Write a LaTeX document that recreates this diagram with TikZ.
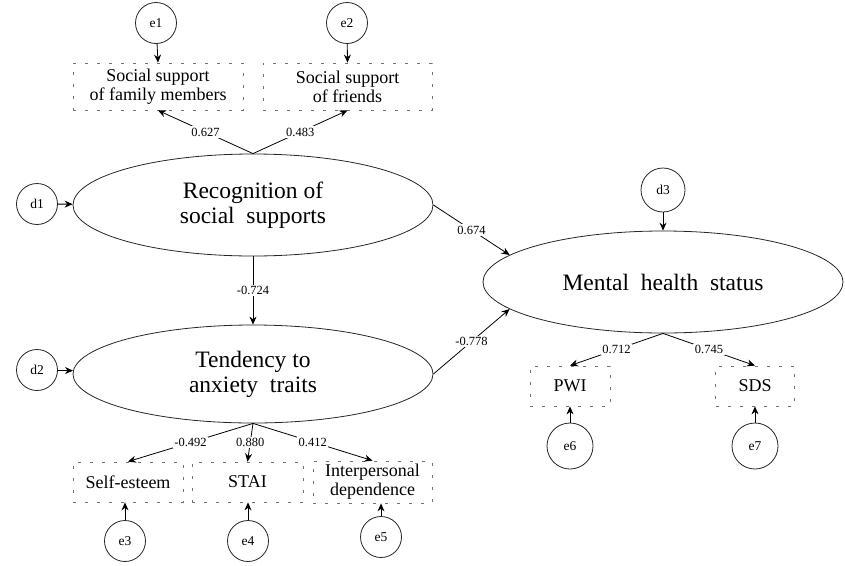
\documentclass[tikz,border=0pt]{standalone}
\usepackage{fontspec}
\setmainfont{Liberation Serif}
\usetikzlibrary{shapes.geometric, arrows, arrows.meta}
\tikzstyle{latent} = [ellipse, draw=black!85, line width=0.8pt, minimum width=360pt, minimum height=102pt, inner sep=0pt, align=center, font=\fontsize{23.5}{25}\selectfont]
\tikzstyle{obs} = [rectangle, draw=black!55, line width=0.8pt, dash pattern=on 3pt off 9pt, minimum height=47pt, align=center, font=\fontsize{18}{19}\selectfont]
\tikzstyle{err} = [circle, draw=black!85, line width=0.8pt, minimum size=41pt, inner sep=0pt, font=\fontsize{13.5}{14}\selectfont]
\tikzstyle{coef} = [fill=white, inner sep=1.5pt, font=\fontsize{12.5}{13}\selectfont]
\tikzstyle{arrow} = [line width=0.8pt,->,>={Stealth[length=8pt,width=7pt]}]

\begin{document}
\begin{tikzpicture}[x=1pt, y=-1pt]
	\useasboundingbox (0,0) rectangle (845,565);
	\node (fam) [obs, minimum width=170pt] at (158,86.5) {Social support\\of family members};
	\node (fri) [obs, minimum width=169pt] at (347.5,86.5) {Social support\\of friends};
	\node (e1) [err] at (156,23) {e1};
	\node (e2) [err] at (347,23) {e2};
	\node (recog) [latent] at (253,205) {Recognition of\\social \ supports};
	\node (tend) [latent, minimum height=98pt] at (253,374) {Tendency to\\anxiety \ traits};
	\node (mental) [latent] at (663,282) {Mental \ health \ status};
	\node (d1) [err] at (37,204) {d1};
	\node (d2) [err] at (37,370) {d2};
	\node (d3) [err, minimum size=44pt] at (663,190) {d3};
	\node (self) [obs, minimum width=110pt, minimum height=40pt] at (128,482) {Self-esteem};
	\node (stai) [obs, minimum width=111pt, minimum height=40pt] at (247.5,482) {STAI};
	\node (inter) [obs, minimum width=119pt, minimum height=40pt] at (372.5,482) {Interpersonal\\dependence};
	\node (e3) [err] at (125,541) {e3};
	\node (e4) [err] at (248,541) {e4};
	\node (e5) [err] at (381,537) {e5};
	\node (pwi) [obs, minimum width=80pt, minimum height=40pt] at (570,386) {PWI};
	\node (sds) [obs, minimum width=79pt, minimum height=40pt] at (755,386) {SDS};
	\node (e6) [err, minimum size=46pt] at (570,446) {e6};
	\node (e7) [err, minimum size=46pt] at (755,446) {e7};
	\draw [arrow] (e1) -- (fam.north);
	\draw [arrow] (e2) -- (fri.north);
	\draw [arrow] (recog.north) -- node[coef] {0.627} (fam.south);
	\draw [arrow] (recog.north) -- node[coef] {0.483} (fri.south);
	\draw [arrow] (d1) -- (recog);
	\draw [arrow] (d2) -- (tend);
	\draw [arrow] (d3) -- (mental);
	\draw [arrow] (recog.south) -- node[coef] {-0.724} (tend.north);
	\draw [arrow] (recog.east) -- node[coef] {0.674} (mental.170);
	\draw [arrow] (tend.east) -- node[coef] {-0.778} (mental.190);
	\draw [arrow] (tend.south) -- node[coef] {-0.492} (self.north);
	\draw [arrow] (tend.south) -- node[coef] {0.880} (stai.north);
	\draw [arrow] (tend.south) -- node[coef] {0.412} (inter.north);
	\draw [arrow] (e3) -- (e3 |- self.south);
	\draw [arrow] (e4) -- (e4 |- stai.south);
	\draw [arrow] (e5) -- (e5 |- inter.south);
	\draw [arrow] (mental.south) -- node[coef] {0.712} (pwi.north);
	\draw [arrow] (mental.south) -- node[coef] {0.745} (sds.north);
	\draw [arrow] (e6) -- (pwi.south);
	\draw [arrow] (e7) -- (sds.south);
\end{tikzpicture}
\end{document}
